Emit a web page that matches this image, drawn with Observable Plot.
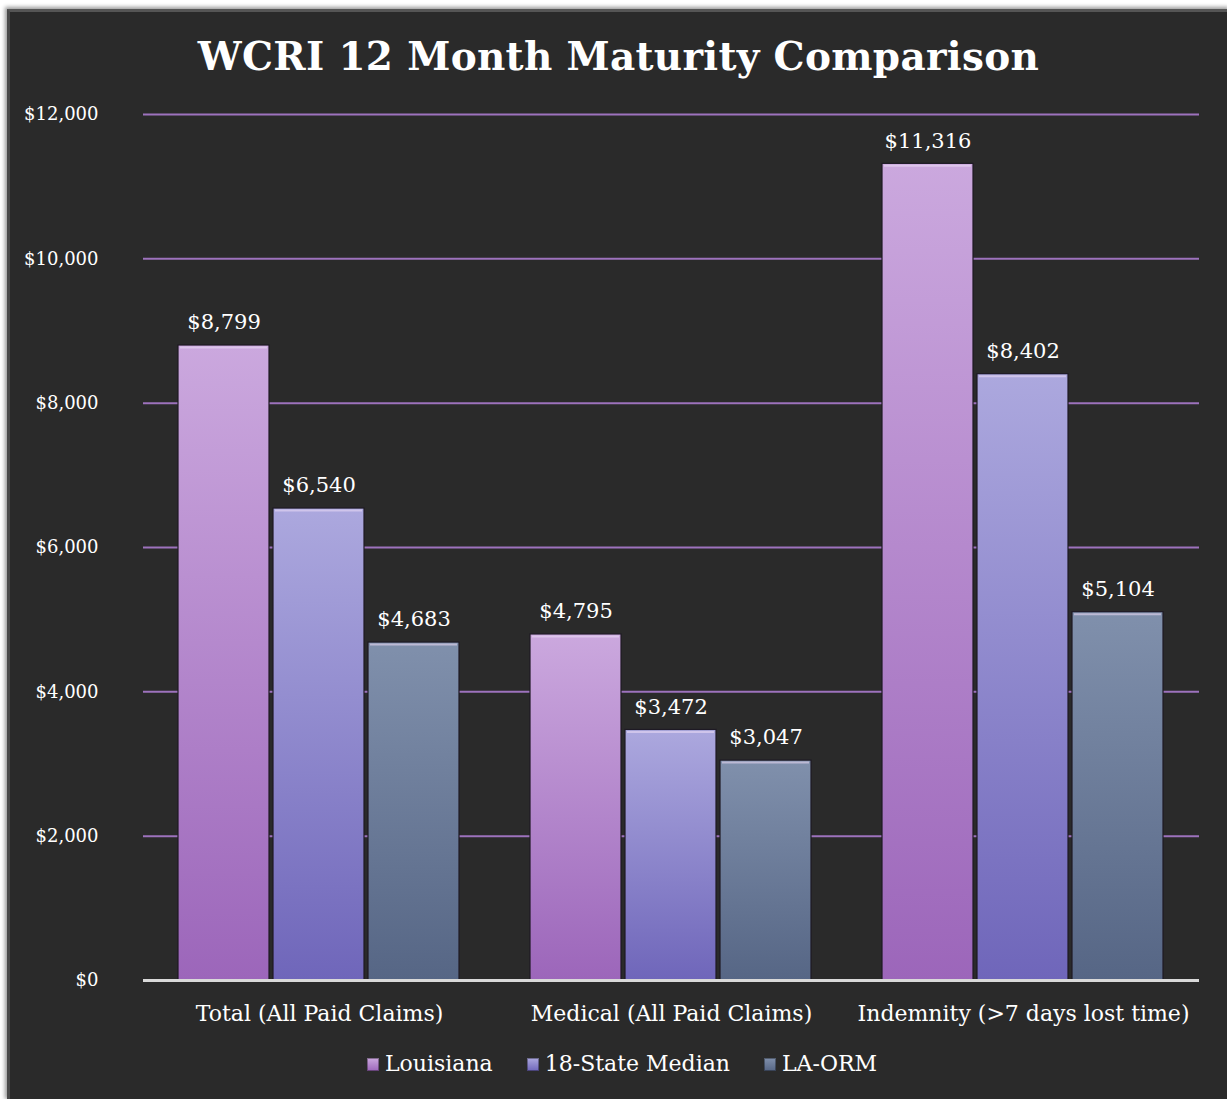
<!DOCTYPE html>
<html>
<head>
<meta charset="utf-8">
<script src="https://cdn.jsdelivr.net/npm/d3@7"></script>
<script src="https://cdn.jsdelivr.net/npm/@observablehq/plot@0.6"></script>
<style>
  html, body { margin: 0; padding: 0; background: #ffffff; }
  body { width: 1227px; height: 1099px; position: relative; overflow: hidden; font-family: "DejaVu Serif", serif; }
  #frame { position: absolute; left: 7px; top: 9px; width: 1224px; height: 1092px; background: #2a2a2a;
           border-top: 3px solid #555; border-left: 3px solid #4a4a4a; box-shadow: -2px -2px 4px #999; box-sizing: border-box; }
  #title { position: absolute; left: 0; width: 1237px; top: 33px; text-align: center; color: #ffffff;
           font-family: "DejaVu Serif", serif; font-weight: bold; font-size: 39px; letter-spacing: 0.3px; }
  #chart { position: absolute; left: 0; top: 95px; }
  #legend { position: absolute; left: 0; width: 1244px; top: 1051px; text-align: center; color: #fff;
            font-family: "DejaVu Serif", serif; font-size: 22px; }
  .item { display: inline-block; margin: 0 17px; }
  .sw { display: inline-block; width: 12px; height: 13px; margin-right: 6px; vertical-align: 0px; box-shadow: inset 0 0 0 1px rgba(0,0,0,0.35); }
</style>
</head>
<body>
<div id="frame"></div>
<div id="title">WCRI 12 Month Maturity Comparison</div>
<div id="chart"></div>
<div id="legend"></div>
<script>
const categories = ["Total (All Paid Claims)", "Medical (All Paid Claims)", "Indemnity (>7 days lost time)"];
const seriesNames = ["Louisiana", "18-State Median", "LA-ORM"];
const louisiana = [8799, 4795, 11316];
const stateMedian = [6540, 3472, 8402];
const laOrm = [4683, 3047, 5104];
const yTicks = [0, 2000, 4000, 6000, 8000, 10000, 12000];
const seriesColors = [["#cba8de", "#9c66ba"], ["#aca8de", "#6f66ba"], ["#8090ac", "#566685"]];

const seriesValues = [louisiana, stateMedian, laOrm];
const data = [];
categories.forEach((c, i) => seriesNames.forEach((s, j) => data.push({category: c, series: s, value: seriesValues[j][i]})));

const fmt = v => "$" + d3.format(",")(v);

const plot = Plot.plot({
  width: 1227,
  height: 940,
  marginLeft: 142,
  marginRight: 27,
  marginTop: 19,
  marginBottom: 55,
  style: {background: "transparent", color: "#ffffff", fontFamily: "DejaVu Serif, serif", fontSize: "18px", overflow: "visible"},
  fx: {domain: categories, padding: 0, label: null},
  x: {domain: seriesNames, paddingInner: 0.04, paddingOuter: 0.36, axis: null},
  y: {domain: [0, 12000], label: null},
  color: {domain: seriesNames, range: ["url(#g0)", "url(#g1)", "url(#g2)"]},
  marks: [
    Plot.ruleY(yTicks.filter(d => d > 0), {stroke: "#9d72bd", strokeWidth: 2, strokeOpacity: 1}),
    Plot.barY(data, {fx: "category", x: "series", y: "value", fill: "series", stroke: "#1e1a24", strokeWidth: 1.2}),
    Plot.tickY(data, {fx: "category", x: "series", y: "value", stroke: "#ecdcf5", strokeWidth: 2, strokeOpacity: 0.55, inset: 2, dy: 2}),
    Plot.ruleY([0], {stroke: "#d9d9d9", strokeWidth: 3}),
    Plot.text(data, {fx: "category", x: "series", y: "value", text: d => fmt(d.value), dy: -23, fill: "#ffffff", fontSize: 21, textAnchor: "middle"}),
    Plot.axisY({ticks: yTicks, tickFormat: fmt, tickSize: 0, tickPadding: 45, label: null, fill: "#ffffff", fontSize: 18}),
    Plot.axisFx({anchor: "bottom", tickSize: 0, tickPadding: 25, label: null, fill: "#ffffff", fontSize: 22})
  ]
});

const svg = d3.select(plot);
const defs = svg.insert("defs", ":first-child");
seriesColors.forEach((c, i) => {
  const g = defs.append("linearGradient").attr("id", "g" + i).attr("x1", 0).attr("y1", 0).attr("x2", 0).attr("y2", 1);
  g.append("stop").attr("offset", "0%").attr("stop-color", c[0]);
  g.append("stop").attr("offset", "100%").attr("stop-color", c[1]);
});
document.getElementById("chart").appendChild(plot);

const legend = document.getElementById("legend");
seriesNames.forEach((s, i) => {
  const it = document.createElement("span");
  it.className = "item";
  const sw = document.createElement("span");
  sw.className = "sw";
  sw.style.background = `linear-gradient(${seriesColors[i][0]}, ${seriesColors[i][1]})`;
  it.appendChild(sw);
  it.appendChild(document.createTextNode(s));
  legend.appendChild(it);
});
</script>
</body>
</html>
